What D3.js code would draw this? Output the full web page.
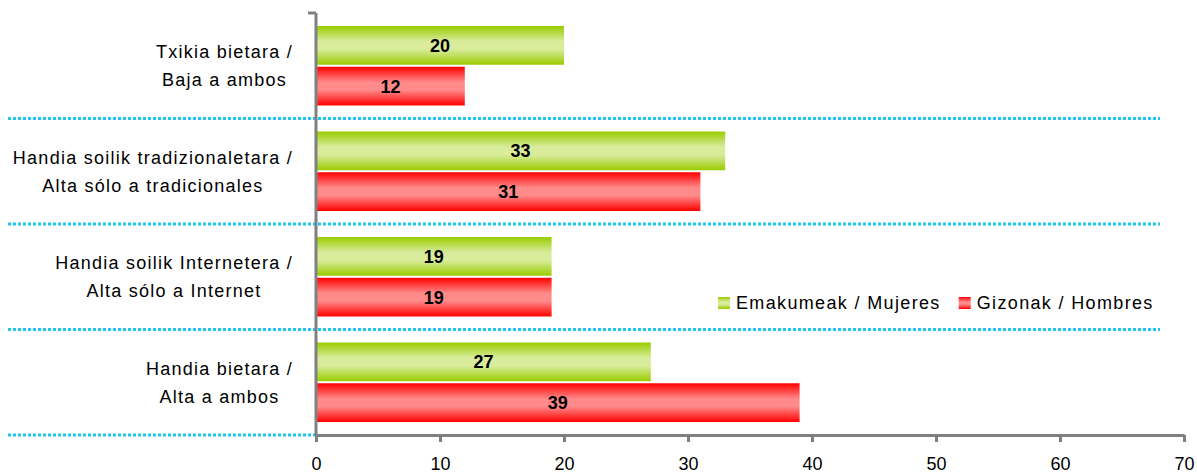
<!DOCTYPE html>
<html>
<head>
<meta charset="utf-8">
<script src="https://cdn.jsdelivr.net/npm/d3@7"></script>
<style>
  body { margin: 0; background: #fff; }
  text { font-family: "Liberation Sans", Arial, sans-serif; }
</style>
</head>
<body>
<div id="chart"></div>
<script>
// categories, top to bottom (each split into two lines)
var categories = [
  ['Txikia bietara /', 'Baja a ambos'],
  ['Handia soilik tradizionaletara /', 'Alta sólo a tradicionales'],
  ['Handia soilik Internetera /', 'Alta sólo a Internet'],
  ['Handia bietara /', 'Alta a ambos']
];
var women = [20, 33, 19, 27];
var men = [12, 31, 19, 39];
var seriesNames = ['Emakumeak / Mujeres', 'Gizonak / Hombres'];
var xTicks = [0, 10, 20, 30, 40, 50, 60, 70];

(function() {
  var w = 1197,
      h = 473,
      mLeft = 316,
      mRight = 1184,
      mTop = 13,
      mBottom = 435;

  var svg = d3.select('#chart').append('svg')
      .attr('width', w)
      .attr('height', h);

  // gradients: dark edges, light middle
  var defs = svg.append('defs');
  function addGrad(id, edge, mid) {
    var g = defs.append('linearGradient')
        .attr('id', id)
        .attr('x1', 0).attr('y1', 0).attr('x2', 0).attr('y2', 1);
    g.append('stop').attr('offset', '0%').attr('stop-color', edge);
    g.append('stop').attr('offset', '40%').attr('stop-color', mid);
    g.append('stop').attr('offset', '60%').attr('stop-color', mid);
    g.append('stop').attr('offset', '100%').attr('stop-color', edge);
  }
  addGrad('gGreen', '#99cc00', '#d8ec9c');
  addGrad('gRed', '#ff0000', '#ff8a8a');

  var x = d3.scaleLinear().domain([0, 70]).range([mLeft, mRight]);
  var y = d3.scaleBand()
      .domain(d3.range(categories.length))
      .range([mTop, mBottom]);
  var inner = d3.scaleBand()
      .domain([0, 1])
      .range([13, y.bandwidth() - 13])
      .paddingInner(0.05);

  // dotted separators between groups
  var seps = d3.range(1, categories.length + 1).map(function(i) {
    return mTop + i * y.bandwidth();
  });
  svg.selectAll('line.sep')
      .data(seps)
    .enter().append('line')
      .attr('class', 'sep')
      .attr('x1', 8)
      .attr('x2', function(d, i) { return i == seps.length - 1 ? mLeft : 1160; })
      .attr('y1', function(d) { return d; })
      .attr('y2', function(d) { return d; })
      .attr('stroke', '#1ec6f2')
      .attr('stroke-width', 3)
      .attr('stroke-dasharray', '3,2');

  // bars
  var series = [
    {vals: women, fill: 'url(#gGreen)'},
    {vals: men, fill: 'url(#gRed)'}
  ];
  series.forEach(function(s, si) {
    var g = svg.append('g');
    g.selectAll('rect')
        .data(s.vals)
      .enter().append('rect')
        .attr('x', x(0))
        .attr('y', function(d, i) { return y(i) + inner(si); })
        .attr('width', function(d) { return x(d) - x(0); })
        .attr('height', inner.bandwidth())
        .attr('fill', s.fill);
    g.selectAll('text')
        .data(s.vals)
      .enter().append('text')
        .attr('x', function(d) { return (x(0) + x(d)) / 2; })
        .attr('y', function(d, i) { return y(i) + inner(si) + inner.bandwidth() / 2; })
        .attr('dy', '0.36em')
        .attr('text-anchor', 'middle')
        .style('font-size', '18px')
        .style('font-weight', 'bold')
        .text(function(d) { return d; });
  });

  // x axis
  var xAxis = svg.append('g')
      .attr('transform', 'translate(0,' + mBottom + ')')
      .call(d3.axisBottom(x).tickValues(xTicks).tickSize(7).tickSizeOuter(0));
  xAxis.select('.domain').attr('stroke', '#808080').attr('stroke-width', 3);
  xAxis.selectAll('.tick line').attr('stroke', '#808080').attr('stroke-width', 3);
  xAxis.selectAll('.tick text')
      .attr('y', 22)
      .attr('fill', '#000')
      .style('font-size', '18px')
      .style('font-family', '"Liberation Sans", Arial, sans-serif');

  // y axis line
  svg.append('line')
      .attr('x1', mLeft).attr('x2', mLeft)
      .attr('y1', mTop).attr('y2', mBottom)
      .attr('stroke', '#808080')
      .attr('stroke-width', 3);
  svg.append('line')
      .attr('x1', mLeft - 8).attr('x2', mLeft)
      .attr('y1', mTop).attr('y2', mTop)
      .attr('stroke', '#808080')
      .attr('stroke-width', 3);

  // category labels: block right-aligned, lines centred within block
  var labelRight = 293;
  categories.forEach(function(lines, i) {
    var cy = y(i) + y.bandwidth() / 2;
    var g = svg.append('g');
    var texts = lines.map(function(l, j) {
      return g.append('text')
          .attr('y', cy + (j - (lines.length - 1) / 2) * 28)
          .attr('dy', '0.36em')
          .attr('text-anchor', 'middle')
          .style('font-size', '18px')
          .style('letter-spacing', '1.25px')
          .text(l);
    });
    var maxW = d3.max(texts, function(t) { return t.node().getComputedTextLength(); });
    texts.forEach(function(t) { t.attr('x', labelRight - maxW / 2); });
  });

  // legend
  var legend = svg.append('g').attr('transform', 'translate(718,303)');
  var lx = 0;
  seriesNames.forEach(function(name, i) {
    var item = legend.append('g').attr('transform', 'translate(' + lx + ',0)');
    item.append('rect')
        .attr('x', 0).attr('y', -6)
        .attr('width', 12).attr('height', 12)
        .attr('fill', series[i].fill);
    var t = item.append('text')
        .attr('x', 18)
        .attr('dy', '0.36em')
        .style('font-size', '18px')
        .style('letter-spacing', '1.35px')
        .text(name);
    lx += 18 + t.node().getComputedTextLength() + 18;
  });
})();
</script>
</body>
</html>
